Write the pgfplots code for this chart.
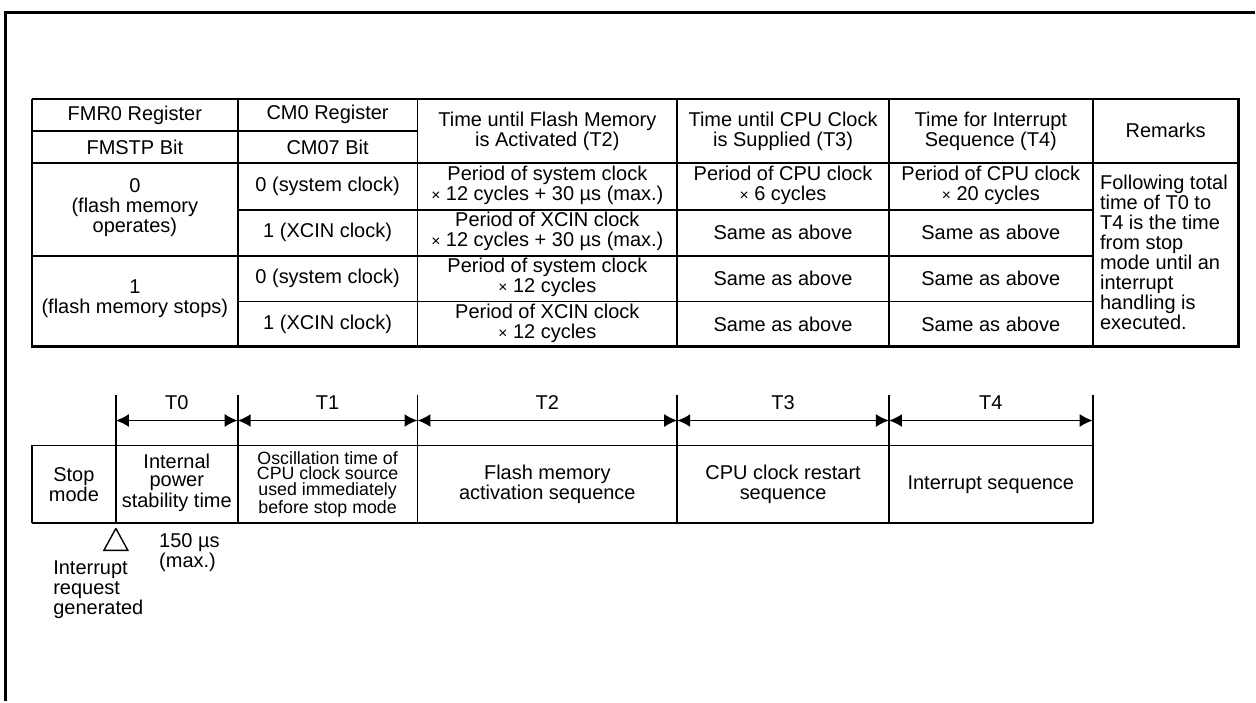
\documentclass[border=0pt]{standalone}
\usepackage{pgfplots}
\pgfplotsset{compat=1.18}
\usepackage{fontspec}
\setmainfont{Liberation Sans}
\usetikzlibrary{arrows.meta}
\newcommand{\tx}{{\fontsize{7.8}{7.8}\selectfont ×}}
\begin{document}
\begin{tikzpicture}
\begin{axis}[width=628pt,height=351pt,scale only axis,
  xmin=0,xmax=1256,ymin=0,ymax=702,y dir=reverse,
  axis lines=none,ticks=none,clip=false]
\path (axis cs:0,0) rectangle (axis cs:1256,702);
% outer frame
\addplot[black,line width=1.5pt,no marks] coordinates {(6,702) (6,13) (1256,13)};
% table outer border
\addplot[black,line width=1.2pt,no marks] coordinates {(32,99) (1240,99) (1240,347) (32,347) (32,99)};
% table inner lines
\addplot[black,line width=0.75pt,no marks] coordinates {(32,131) (418,131)};
\addplot[black,line width=0.9pt,no marks] coordinates {(32,163) (1240,163)};
\addplot[black,line width=0.75pt,no marks] coordinates {(238,210) (1094,210)};
\addplot[black,line width=0.9pt,no marks] coordinates {(32,256) (1094,256)};
\addplot[black,line width=0.75pt,no marks] coordinates {(238,302) (1094,302)};
\addplot[black,line width=0.9pt,no marks] coordinates {(238,99) (238,347)};
\addplot[black,line width=0.9pt,no marks] coordinates {(418,99) (418,347)};
\addplot[black,line width=0.9pt,no marks] coordinates {(678,99) (678,347)};
\addplot[black,line width=0.9pt,no marks] coordinates {(890,99) (890,347)};
\addplot[black,line width=0.9pt,no marks] coordinates {(1094,99) (1094,347)};
% table text
\begin{scope}[every node/.style={align=center,inner sep=0pt,font=\fontsize{10}{10}\selectfont}]
\node at (axis cs:135,115) {FMR0 Register};
\node at (axis cs:135,148) {FMSTP Bit};
\node at (axis cs:328,114) {CM0 Register};
\node at (axis cs:328,148) {CM07 Bit};
\node at (axis cs:548,131) {Time until Flash Memory\\is Activated (T2)};
\node at (axis cs:784,131) {Time until CPU Clock\\is Supplied (T3)};
\node at (axis cs:992,131) {Time for Interrupt\\Sequence (T4)};
\node at (axis cs:1167,131) {Remarks};
\node at (axis cs:135,208) {0\\(flash memory\\operates)};
\node at (axis cs:135,299) {1\\(flash memory stops)};
\node at (axis cs:328,187) {0 (system clock)};
\node at (axis cs:328,233) {1 (XCIN clock)};
\node at (axis cs:328,279) {0 (system clock)};
\node at (axis cs:328,325) {1 (XCIN clock)};
\node at (axis cs:548,186) {Period of system clock\\\tx\ 12 cycles + 30 µs (max.)};
\node at (axis cs:548,232) {Period of XCIN clock\\\tx\ 12 cycles + 30 µs (max.)};
\node at (axis cs:548,278) {Period of system clock\\\tx\ 12 cycles};
\node at (axis cs:548,324) {Period of XCIN clock\\\tx\ 12 cycles};
\node at (axis cs:784,186) {Period of CPU clock\\\tx\ 6 cycles};
\node at (axis cs:784,233) {Same as above};
\node at (axis cs:784,279) {Same as above};
\node at (axis cs:784,325) {Same as above};
\node at (axis cs:992,186) {Period of CPU clock\\\tx\ 20 cycles};
\node at (axis cs:992,233) {Same as above};
\node at (axis cs:992,279) {Same as above};
\node at (axis cs:992,325) {Same as above};
\node[align=left,anchor=west] at (axis cs:1101,253) {Following total\\time of T0 to\\T4 is the time\\from stop\\mode until an\\interrupt\\handling is\\executed.};
\end{scope}
% timing diagram
\addplot[black,line width=0.9pt,no marks] coordinates {(32,446) (1094,446)};
\addplot[black,line width=0.9pt,no marks] coordinates {(32,524) (1094,524)};
\addplot[black,line width=0.9pt,no marks] coordinates {(32,446) (32,524)};
\addplot[black,line width=0.9pt,no marks] coordinates {(116,395) (116,524)};
\addplot[black,line width=0.9pt,no marks] coordinates {(238,395) (238,524)};
\addplot[black,line width=0.9pt,no marks] coordinates {(418,395) (418,524)};
\addplot[black,line width=0.9pt,no marks] coordinates {(678,395) (678,524)};
\addplot[black,line width=0.9pt,no marks] coordinates {(890,395) (890,524)};
\addplot[black,line width=0.9pt,no marks] coordinates {(1094,395) (1094,524)};
\pgfplotsset{arr/.style={black,line width=0.9pt,no marks,{Latex[length=6.5pt,width=6.5pt]}-{Latex[length=6.5pt,width=6.5pt]}}}
\addplot[arr] coordinates {(116,421) (238,421)};
\addplot[arr] coordinates {(238,421) (418,421)};
\addplot[arr] coordinates {(418,421) (678,421)};
\addplot[arr] coordinates {(678,421) (890,421)};
\addplot[arr] coordinates {(890,421) (1094,421)};
% triangle
\addplot[black,line width=0.7pt,no marks] coordinates {(116,529) (104,551) (128,551) (116,529)};
\begin{scope}[every node/.style={align=center,inner sep=0pt,font=\fontsize{10}{10}\selectfont}]
\node at (axis cs:177,403) {T0};
\node at (axis cs:328,403) {T1};
\node at (axis cs:548,403) {T2};
\node at (axis cs:784,403) {T3};
\node at (axis cs:992,403) {T4};
\node at (axis cs:74,485) {Stop\\mode};
\node[font=\fontsize{10}{9.3}\selectfont] at (axis cs:177,483) {Internal\\power\\stability time};
\node[font=\fontsize{8.9}{7.7}\selectfont] at (axis cs:328,485) {Oscillation time of\\CPU clock source\\used immediately\\before stop mode};
\node at (axis cs:548,485) {Flash memory\\activation sequence};
\node at (axis cs:784,485) {CPU clock restart\\sequence};
\node at (axis cs:992,485) {Interrupt sequence};
\node[align=left,anchor=west] at (axis cs:159,553) {150 µs\\(max.)};
\node[align=left,anchor=west] at (axis cs:53,590) {Interrupt\\request\\generated};
\end{scope}
\end{axis}
\end{tikzpicture}
\end{document}
